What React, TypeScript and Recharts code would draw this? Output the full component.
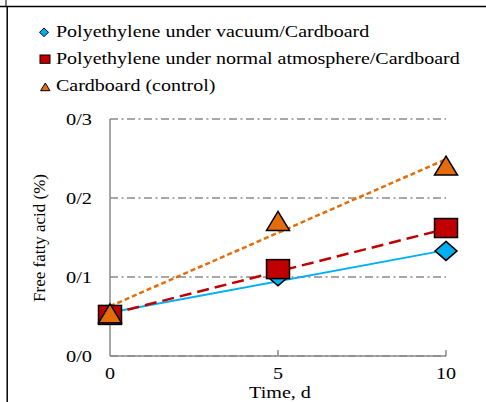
import React from 'react';
import { ComposedChart, Line, Scatter, XAxis, YAxis, CartesianGrid } from 'recharts';

// storage time (days) and measured free fatty acid (%)
const days = [0, 5, 10];
const vacuum = [0.053, 0.101, 0.133];
const normalAtm = [0.052, 0.11, 0.162];
const control = [0.054, 0.171, 0.241];

// linear trendlines, read at both ends of the axis
const trendDays = [0, 10];
const vacuumTrend = [0.055, 0.134];
const normalTrend = [0.053, 0.161];
const controlTrend = [0.063, 0.249];

const yTicks = [0, 0.1, 0.2, 0.3];
const xTicks = [0, 5, 10];

const legendLabels = [
  'Polyethylene under vacuum/Cardboard',
  'Polyethylene under normal atmosphere/Cardboard',
  'Cardboard (control)',
];

const BLUE = '#00B0F0';
const RED = '#C00000';
const ORANGE = '#E46C0A';
const GREY = '#8a8a8a';
const FONT = "'Liberation Serif', 'Times New Roman', serif";

const toPoints = (xs: number[], ys: number[]) => xs.map((x, i) => ({ x, y: ys[i] }));

// the original figure is a little wider than tall, so text is stretched sideways
const Wide = ({ x, y, sx = 1.22, size, anchor = 'start', children }: any) => (
  <g transform={`translate(${x},${y}) scale(${sx},1)`}>
    <text x={0} y={0} fontFamily={FONT} fontSize={size} fill="#000" textAnchor={anchor}>
      {children}
    </text>
  </g>
);

const Diamond = (p: any) => {
  const { cx, cy } = p;
  return (
    <polygon
      points={`${cx},${cy - 9.5} ${cx + 11},${cy} ${cx},${cy + 9.5} ${cx - 11},${cy}`}
      fill={BLUE}
      stroke="#000"
      strokeWidth={1.5}
    />
  );
};

const Square = (p: any) => {
  const { cx, cy } = p;
  return <rect x={cx - 11.5} y={cy - 9.5} width={23} height={19} fill={RED} stroke="#000" strokeWidth={1.5} />;
};

const Triangle = (p: any) => {
  const { cx, cy } = p;
  return (
    <polygon
      points={`${cx},${cy - 9.5} ${cx + 11.5},${cy + 9.5} ${cx - 11.5},${cy + 9.5}`}
      fill={ORANGE}
      stroke="#000"
      strokeWidth={1.5}
    />
  );
};

const fmt = (v: number) => v.toFixed(1).replace('.', '/');

const YTick = (p: any) => {
  const { y, payload } = p;
  return (
    <Wide x={92} y={y + 6} size={17} sx={1.2} anchor="end">
      {fmt(payload.value)}
    </Wide>
  );
};

const XTick = (p: any) => {
  const { x, y, payload } = p;
  return (
    <g>
      {payload.value !== 0 && <line x1={x} y1={y - 6} x2={x} y2={y} stroke={GREY} strokeWidth={1.5} />}
      <Wide x={x} y={y + 22.5} size={17.5} sx={1.15} anchor="middle">
        {String(payload.value)}
      </Wide>
    </g>
  );
};

export default function App() {
  return (
    <div style={{ position: 'absolute', left: 0, top: 0, width: 486, height: 402, background: '#fff', overflow: 'hidden' }}>
      <ComposedChart width={486} height={402} margin={{ top: 119, right: 40, bottom: 0, left: 0 }}>
        <CartesianGrid vertical={false} stroke={GREY} strokeWidth={1.5} strokeDasharray="8 3.5 2 3.5" />
        <XAxis
          type="number"
          dataKey="x"
          domain={[0, 10]}
          ticks={xTicks}
          height={46}
          axisLine={{ stroke: GREY, strokeWidth: 1.5 }}
          tickLine={false}
          tickSize={0}
          tickMargin={0}
          tick={<XTick />}
        />
        <YAxis
          type="number"
          dataKey="y"
          domain={[0, 0.3]}
          ticks={yTicks}
          width={110}
          axisLine={{ stroke: GREY, strokeWidth: 1.5 }}
          tickLine={false}
          tickSize={0}
          tickMargin={0}
          tick={<YTick />}
        />
        <Scatter data={toPoints(days, vacuum)} dataKey="y" shape={<Diamond />} isAnimationActive={false} />
        <Scatter data={toPoints(days, normalAtm)} dataKey="y" shape={<Square />} isAnimationActive={false} />
        <Scatter data={toPoints(days, control)} dataKey="y" shape={<Triangle />} isAnimationActive={false} />
        <Line data={toPoints(trendDays, vacuumTrend)} dataKey="y" type="linear" stroke={BLUE} strokeWidth={2} dot={false} isAnimationActive={false} />
        <Line data={toPoints(trendDays, normalTrend)} dataKey="y" type="linear" stroke={RED} strokeWidth={2.5} strokeDasharray="12 6" dot={false} isAnimationActive={false} />
        <Line data={toPoints(trendDays, controlTrend)} dataKey="y" type="linear" stroke={ORANGE} strokeWidth={2.5} strokeDasharray="5 3" dot={false} isAnimationActive={false} />
      </ComposedChart>
      <svg width={486} height={402} style={{ position: 'absolute', left: 0, top: 0, pointerEvents: 'none' }}>
        <line x1={0} y1={6.5} x2={486} y2={6.5} stroke="#000" strokeWidth={1.5} />
        <line x1={6} y1={0} x2={6} y2={7} stroke="#000" strokeWidth={1} />
        <line x1={7.2} y1={6.5} x2={7.2} y2={402} stroke="#000" strokeWidth={1.5} />
        <polygon points="44,28 48.5,32.3 44,36.6 39.5,32.3" fill={BLUE} stroke="#000" strokeWidth={1} />
        <rect x={40} y={55} width={10} height={8.3} fill={RED} stroke="#000" strokeWidth={1} />
        <polygon points="45.3,83 50,90.7 40.6,90.7" fill={ORANGE} stroke="#000" strokeWidth={1} />
        {legendLabels.map((t, i) => (
          <Wide key={t} x={56} y={37.4 + i * 26.7} size={16} sx={1.25}>
            {t}
          </Wide>
        ))}
        <text x={45} y={238} transform="rotate(-90 45 238)" textAnchor="middle" fontFamily={FONT} fontSize={17} fill="#000">
          Free fatty acid (%)
        </text>
        <Wide x={280} y={398.3} size={16.5} sx={1.22} anchor="middle">
          Time, d
        </Wide>
      </svg>
    </div>
  );
}
